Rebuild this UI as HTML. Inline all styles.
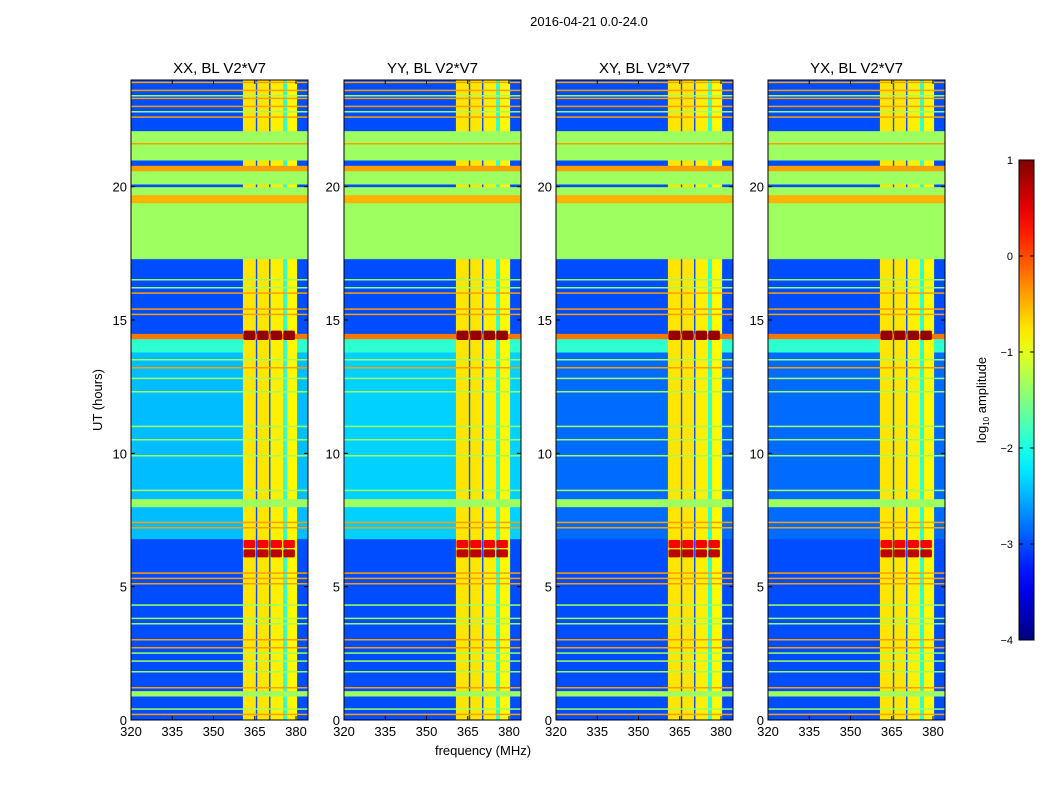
<!DOCTYPE html>
<html><head><meta charset="utf-8">
<style>
body{margin:0;background:#fff;}
svg{display:block;font-family:"Liberation Sans",sans-serif;}
</style></head>
<body>
<svg id="fig" width="1050" height="800" viewBox="0 0 1050 800">
<text x="589" y="26" font-size="13" text-anchor="middle">2016-04-21 0.0-24.0</text>
<text x="483" y="755" font-size="13" text-anchor="middle">frequency (MHz)</text>
<text transform="translate(102,400) rotate(-90)" font-size="13" text-anchor="middle">UT (hours)</text>
<g id="panels"></g>
<g id="cbar"></g>
</svg>
<script>
const panelTitles = ["XX, BL V2*V7","YY, BL V2*V7","XY, BL V2*V7","YX, BL V2*V7"];
const panelLefts = [131,344,556,768];
const xTicks = [320,335,350,365,380];
const yTicks = [0,5,10,15,20];
// time bands: start hour, end hour, background log amplitude, flagged(1=uniform across freq)
const bandStart = [0,0.9,1.1,6.8,7.5,8.0,8.3,13.8,14.3,14.5,17.3,19.4,19.7,20.0,20.1,20.6,20.8,21.0,22.1];
const bandEnd   = [0.9,1.1,6.8,7.5,8.0,8.3,13.8,14.3,14.5,17.3,19.4,19.7,20.0,20.1,20.6,20.8,21.0,22.1,24];
const bandVal   = [-3.0,-1.35,-3.0,-2.4,-2.4,-1.35,-2.4,-1.9,-0.2,-3.0,-1.35,-0.5,-1.35,-3.0,-1.35,-0.4,-3.0,-1.35,-3.0];
const bandFlag  = [0,1,0,0,0,1,0,0,1,0,1,1,1,0,1,1,0,1,0];
// mid-day band value per panel (6.8-13.8 h)
const midVal = [-2.45,-2.35,-2.85,-2.85];
// frequency columns in the strip: start MHz, end MHz, value
const colStart = [320,360.7,365.4,365.9,370.2,370.7,375.3,376.7,380.4];
const colEnd   = [360.7,365.4,365.9,370.2,370.7,375.3,376.7,380.4,384.4];
const colVal   = [null,-0.75,-3.0,-0.75,-3.0,-0.8,-1.9,-0.85,null];
// narrow horizontal lines: hour, value
const lineHour = [0.2,1.2,2.7,3.0,5.1,5.3,5.5,7.2,7.4,13.2,15.2,15.4,16.0,21.6,22.6,23.0,23.3,23.6,23.9,
                  0.4,1.8,2.2,2.5,3.6,3.8,4.3,8.6,9.9,10.5,11.0,12.3,12.8,13.5,16.2,16.5,22.8,23.4];
const lineVal  = [-0.4,-0.4,-0.4,-0.4,-0.4,-0.4,-0.4,-0.4,-0.4,-0.4,-0.4,-0.4,-0.4,-0.4,-0.4,-0.4,-0.4,-0.4,-0.4,
                  -1.35,-1.35,-1.35,-1.35,-1.35,-1.35,-1.35,-1.35,-1.35,-1.35,-1.35,-1.35,-1.35,-1.35,-1.35,-1.35,-1.35,-1.35];
// bright blocks: start hour, end hour, value
const blockStart = [14.25,6.1,6.45];
const blockEnd   = [14.6,6.4,6.75];
const blockVal   = [0.9,0.7,0.4];
// bright block frequency ranges (MHz)
const blockF0 = [360.9,365.9,370.8,375.4];
const blockF1 = [365.2,370.0,374.9,379.6];

const NS="http://www.w3.org/2000/svg";
const Y0=720,Y1=80,W=177;
function yScale(h){return Y0-(h/24)*(Y0-Y1);}
function xScale(left,f){return left+(f-320)*2.75;}
function jet(v){
  let t=Math.max(0,Math.min(1,(v+4)/5));
  const r=Math.max(0,Math.min(1,1.5-Math.abs(4*t-3)));
  const g=Math.max(0,Math.min(1,1.5-Math.abs(4*t-2)));
  const b=Math.max(0,Math.min(1,1.5-Math.abs(4*t-1)));
  return `rgb(${Math.round(r*255)},${Math.round(g*255)},${Math.round(b*255)})`;
}
function mk(tag,attrs,parent){const e=document.createElementNS(NS,tag);for(const k in attrs)e.setAttribute(k,attrs[k]);parent.appendChild(e);return e;}
const panels=document.getElementById('panels');
panelLefts.forEach((L,p)=>{
  const g=mk('g',{},panels);
  
  
  const cl=mk('clipPath',{id:'c'+p},g);mk('rect',{x:L,y:Y1,width:W,height:Y0-Y1},cl);
  const img=mk('g',{'clip-path':'url(#c'+p+')'},g);
  for(let i=0;i<bandStart.length;i++){
    let bv=bandVal[i]; if(!bandFlag[i]&&bandStart[i]>=6.8&&bandEnd[i]<=13.8) bv=midVal[p];
    for(let j=0;j<colStart.length;j++){
      let v=bv;
      if(!bandFlag[i]&&colVal[j]!==null) v=colVal[j];
      const x1=xScale(L,colStart[j]),x2=xScale(L,colEnd[j]);
      const r=mk('rect',{x:x1,y:yScale(bandEnd[i]),width:x2-x1+0.5,height:yScale(bandStart[i])-yScale(bandEnd[i])+0.5,fill:jet(v)},img);
      
      
    }
  }
  for(let k=0;k<lineHour.length;k++){
    const r=mk('rect',{x:L,y:yScale(lineHour[k])-1,width:W,height:1.5,fill:jet(lineVal[k])},img);
    
    
  }
  for(let b=0;b<blockStart.length;b++){
    for(let j=0;j<blockF0.length;j++){
      const x1=xScale(L,blockF0[j]),x2=xScale(L,blockF1[j]);
      const r=mk('rect',{x:x1,y:yScale(blockEnd[b]),width:x2-x1,height:yScale(blockStart[b])-yScale(blockEnd[b]),fill:jet(blockVal[b]),rx:1.5},img);
      
      
    }
  }
  const fr=mk('rect',{x:L,y:Y1,width:W,height:Y0-Y1,fill:'none',stroke:'#000','stroke-width':1},g);
  
  
  const t=mk('text',{x:L+W/2,y:73,'font-size':15,'text-anchor':'middle'},g);t.textContent=panelTitles[p];
  
  
  xTicks.forEach(f=>{const x=xScale(L,f);
    mk('line',{x1:x,x2:x,y1:Y0,y2:Y0-4,stroke:'#000'},g);mk('line',{x1:x,x2:x,y1:Y1,y2:Y1+4,stroke:'#000'},g);
    const tx=mk('text',{x:x,y:736,'font-size':13,'text-anchor':'middle'},g);tx.textContent=f;
    
    });
  yTicks.forEach(h=>{const y=yScale(h);
    mk('line',{x1:L,x2:L+4,y1:y,y2:y,stroke:'#000'},g);mk('line',{x1:L+W,x2:L+W-4,y1:y,y2:y,stroke:'#000'},g);
    const ty=mk('text',{x:L-4,y:y+5,'font-size':13,'text-anchor':'end'},g);ty.textContent=h;
    
    });
});
// colorbar
const cbTicks=[1,0,-1,-2,-3,-4];
const cb=document.getElementById('cbar');
const defs=mk('defs',{},cb);const lg=mk('linearGradient',{id:'jg',x1:0,y1:1,x2:0,y2:0},defs);
for(let i=0;i<=20;i++){const v=-4+5*i/20;mk('stop',{offset:i/20,'stop-color':jet(v)},lg);}
mk('rect',{x:1019,y:160,width:15,height:480,fill:'url(#jg)',stroke:'#000'},cb);
cbTicks.forEach(v=>{const y=160+(1-v)/5*480;
  mk('line',{x1:1019,x2:1023,y1:y,y2:y,stroke:'#000'},cb);mk('line',{x1:1034,x2:1030,y1:y,y2:y,stroke:'#000'},cb);
  const t=mk('text',{x:1013,y:y+4,'font-size':11,'text-anchor':'end'},cb);t.textContent=v<0?'\u2212'+(-v):v;
  
  });
const cl=mk('text',{transform:'translate(986,400) rotate(-90)','font-size':13,'text-anchor':'middle'},cb);
cl.innerHTML='log<tspan font-size="8" dy="3">10</tspan><tspan dy="-3"> amplitude</tspan>';


</script>
</body></html>
